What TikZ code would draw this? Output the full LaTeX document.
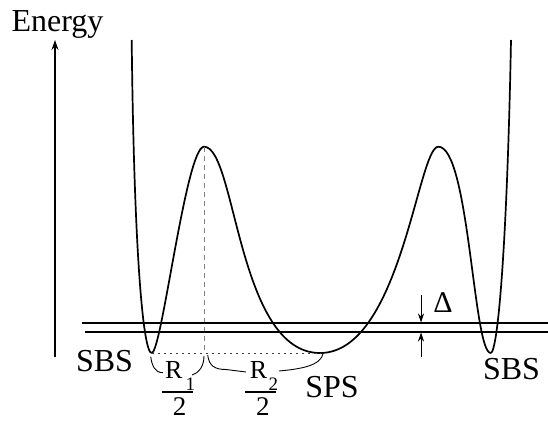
\documentclass[tikz,border=0pt]{standalone}
\usepackage{fontspec}
\setmainfont{Liberation Serif}
\usetikzlibrary{arrows.meta}
\begin{document}
\begin{tikzpicture}[x=1pt,y=-1pt,
  lbl/.style={inner sep=0pt, anchor=base, font=\fontsize{32}{32}\selectfont},
  numer/.style={inner sep=0pt, anchor=base west, font=\fontsize{26}{26}\selectfont},
  subs/.style={inner sep=0pt, anchor=base west, font=\fontsize{19}{19}\selectfont},
  denom/.style={inner sep=0pt, anchor=base, font=\fontsize{27}{27}\selectfont},
  curve/.style={line width=1.7pt, line join=round},
  lvl/.style={line width=1.2pt},
  brc/.style={line width=0.9pt},
  fbar/.style={line width=1.1pt},
  darrow/.style={line width=0.9pt, -{Stealth[length=9pt,width=6pt]}}]
\useasboundingbox (0,0) rectangle (548,420);

% key points
\coordinate (top1) at (131.7,40);
\coordinate (minL) at (151.7,353);
\coordinate (peakL) at (204,146.7);
\coordinate (footL) at (204,353);
\coordinate (minC) at (320,353);
\coordinate (peakR) at (438.3,146.7);
\coordinate (minR) at (490.7,353);
\coordinate (top2) at (511,40);

% potential curve
\draw[curve] (top1) .. controls (134,250) and (143,353) .. (minL)
  .. controls (161.7,353) and (186,146.7) .. (peakL)
  .. controls (236,146.7) and (237.4,353) .. (minC)
  .. controls (400.6,353) and (418,146.7) .. (peakR)
  .. controls (469.2,146.7) and (473.3,353) .. (minR)
  .. controls (497.5,353) and (507,250) .. (top2);

% dashed and dotted guides
\draw[gray, line width=1pt, dash pattern=on 5pt off 4pt] (peakL) -- (footL);
\draw[gray!50!black, line width=1pt, dash pattern=on 2pt off 4pt] (minL) -- (minC);

% levels
\coordinate (l1a) at (82,323);
\coordinate (l1b) at (548,323);
\coordinate (l2a) at (85,332);
\coordinate (l2b) at (548,332);
\draw[lvl] (l1a) -- (l1b);
\draw[lvl] (l2a) -- (l2b);

% energy axis
\coordinate (axb) at (55,357);
\coordinate (axt) at (55,40);
\draw[lvl, -{Stealth[length=10pt,width=7pt]}] (axb) -- (axt);

% Delta arrows
\coordinate (dAs) at (421,295);
\coordinate (dAe) at (421,322.5);
\coordinate (dBs) at (421,357);
\coordinate (dBe) at (421,332.5);
\draw[darrow] (dAs) -- (dAe);
\draw[darrow] (dBs) -- (dBe);

% labels
\node[lbl] (energy) at (57.5,32) {Energy};
\node[lbl] (sbsL) at (104.5,371) {SBS};
\node[lbl] (sps) at (332,397) {SPS};
\node[lbl] (sbsR) at (511.5,379) {SBS};
\node[lbl, font=\fontsize{30}{30}\selectfont] (delta) at (443,312) {Δ};

% braces
\draw[brc] (150.7,356.7) .. controls (152,366) and (155,372.7) .. (163,372.7);
\draw[brc] (192,375) .. controls (199,373) and (204,366) .. (204,356);
\draw[brc] (207.7,355) .. controls (209,366) and (215,369.5) .. (226,369.5) -- (246,372);
\draw[brc] (279,371) .. controls (300,369) and (321,366) .. (323.3,353);

% fractions
\node[numer] (r1) at (165,378) {R};
\node[subs] (r1s) at (185.5,390) {1};
\coordinate (b1a) at (162,392);
\coordinate (b1b) at (193,392);
\draw[fbar] (b1a) -- (b1b);
\node[denom] (d1) at (179.5,415) {2};

\node[numer] (r2) at (249.7,378) {R};
\node[subs] (r2s) at (268.5,390) {2};
\coordinate (b2a) at (245,392);
\coordinate (b2b) at (276,392);
\draw[fbar] (b2a) -- (b2b);
\node[denom] (d2) at (262.8,415) {2};
\end{tikzpicture}
\end{document}
